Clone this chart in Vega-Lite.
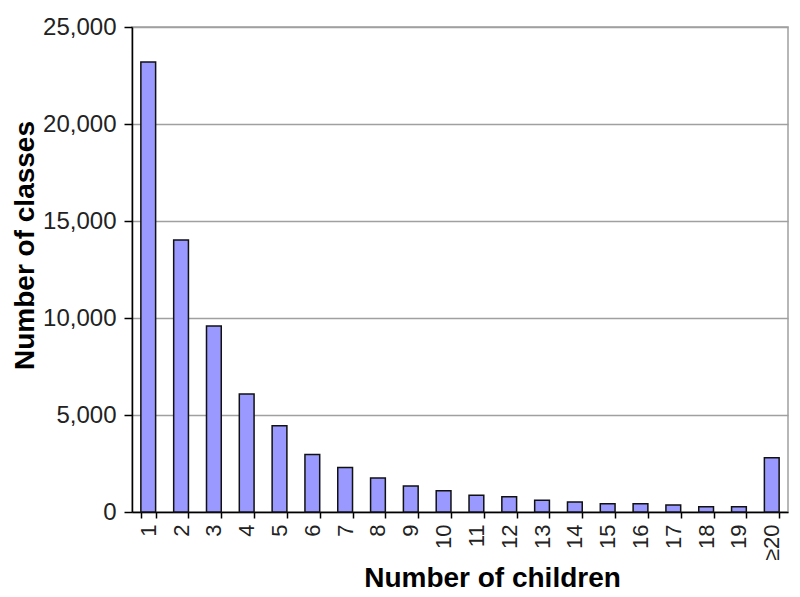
{
  "$schema": "https://vega.github.io/schema/vega-lite/v6.json",
  "width": 656,
  "height": 485,
  "autosize": {"type": "none"},
  "padding": {"left": 132, "top": 27, "right": 12, "bottom": 85},
  "background": "white",
  "config": {
    "font": "Liberation Sans",
    "view": {"stroke": "#a0a0a0", "strokeWidth": 1.5}
  },
  "data": {
    "values": [
      {"children": "1", "classes": 23200},
      {"children": "2", "classes": 14020},
      {"children": "3", "classes": 9590},
      {"children": "4", "classes": 6080},
      {"children": "5", "classes": 4450},
      {"children": "6", "classes": 2970},
      {"children": "7", "classes": 2300},
      {"children": "8", "classes": 1750},
      {"children": "9", "classes": 1340},
      {"children": "10", "classes": 1100},
      {"children": "11", "classes": 860},
      {"children": "12", "classes": 790},
      {"children": "13", "classes": 600},
      {"children": "14", "classes": 515},
      {"children": "15", "classes": 430},
      {"children": "16", "classes": 430},
      {"children": "17", "classes": 360},
      {"children": "18", "classes": 275},
      {"children": "19", "classes": 275},
      {"children": "≥20", "classes": 2800}
    ]
  },
  "mark": {"type": "bar", "fill": "#9999ff", "stroke": "#111111", "strokeWidth": 1.5},
  "encoding": {
    "x": {
      "field": "children",
      "type": "ordinal",
      "sort": null,
      "scale": {"paddingInner": 0.55, "paddingOuter": 0.27},
      "axis": {
        "title": "Number of children",
        "titleFontSize": 28,
        "titleFontWeight": "bold",
        "titleColor": "#000",
        "titlePadding": 4,
        "titleX": 360,
        "labelAngle": 270,
        "labelFontSize": 22,
        "labelColor": "#222",
        "labelPadding": 6,
        "tickBand": "extent",
        "tickSize": 6,
        "tickColor": "#000",
        "tickWidth": 1.5,
        "domainColor": "#000",
        "domainWidth": 1.5
      }
    },
    "y": {
      "field": "classes",
      "type": "quantitative",
      "scale": {"domain": [0, 25000], "nice": false},
      "axis": {
        "title": "Number of classes",
        "titleFontSize": 28,
        "titleFontWeight": "bold",
        "titleColor": "#000",
        "titlePadding": 3,
        "titleY": 218,
        "values": [0, 5000, 10000, 15000, 20000, 25000],
        "format": ",d",
        "labelFontSize": 24,
        "labelColor": "#222",
        "labelPadding": 8,
        "tickSize": 8,
        "tickColor": "#000",
        "tickWidth": 1.5,
        "domainColor": "#000",
        "domainWidth": 1.5,
        "grid": true,
        "gridColor": "#a0a0a0",
        "gridWidth": 1.5
      }
    }
  }
}
